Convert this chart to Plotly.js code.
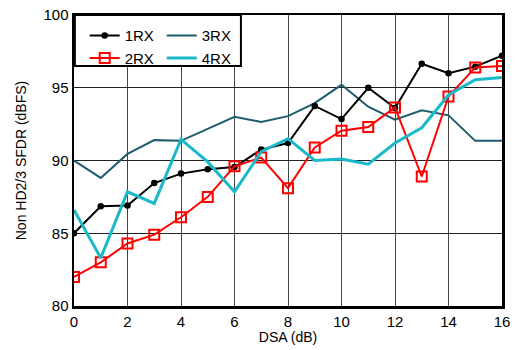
<!DOCTYPE html>
<html>
<head>
<meta charset="utf-8">
<script src="https://cdn.plot.ly/plotly-3.0.1.min.js"></script>
<style>html,body{margin:0;padding:0;background:#fff;}#chart{width:515px;height:350px;}</style>
</head>
<body>
<div id="chart"></div>
<script>
const dsa = [0,1,2,3,4,5,6,7,8,9,10,11,12,13,14,15,16];
const rx1 = [85.0,86.85,86.9,88.45,89.1,89.4,89.55,90.75,91.2,93.75,92.85,95.0,93.6,96.65,96.0,96.45,97.2];
const rx2 = [82.0,83.0,84.3,84.9,86.1,87.5,89.6,90.2,88.1,90.9,92.05,92.3,93.65,88.9,94.4,96.4,96.5];
const rx3 = [90.0,88.8,90.45,91.4,91.35,92.2,93.0,92.65,93.05,93.95,95.2,93.7,92.8,93.45,93.1,91.35,91.35];
const rx4 = [86.6,83.3,87.85,87.05,91.45,89.9,87.85,90.6,91.5,90.0,90.1,89.75,91.2,92.25,94.5,95.55,95.7];
const names = ['1RX','2RX','3RX','4RX'];

const traces = [
  {x:dsa, y:rx3, name:names[2], mode:'lines', line:{color:'#1d5c6c', width:2}, legend:'legend2'},
  {x:dsa, y:rx1, name:names[0], mode:'lines+markers', line:{color:'#000', width:2}, marker:{symbol:'circle', size:6.5, color:'#000'}, legend:'legend', legendrank:1},
  {x:dsa, y:rx2, name:names[1], mode:'lines+markers', line:{color:'#ff0000', width:2}, marker:{symbol:'square-open', size:10, color:'#ff0000', line:{width:2}}, legend:'legend', legendrank:2},
  {x:dsa, y:rx4, name:names[3], mode:'lines', line:{color:'#19b9c9', width:3}, legend:'legend2'}
];

const legCommon = {yanchor:'top', xanchor:'left', orientation:'v', bgcolor:'rgba(0,0,0,0)', borderwidth:0,
  font:{size:15}, itemwidth:30, tracegroupgap:0, traceorder:'normal'};

const layout = {
  width:515, height:350,
  margin:{l:74, r:13, t:15, b:44},
  paper_bgcolor:'#fff', plot_bgcolor:'#fff',
  font:{family:'Liberation Sans, Arial, sans-serif', size:15, color:'#000'},
  xaxis:{range:[0,16], tickvals:[0,2,4,6,8,10,12,14,16], showgrid:true, gridcolor:'#444', gridwidth:1,
    showline:true, linecolor:'#000', linewidth:2.5, mirror:true, zeroline:false, ticks:'', ticklen:0,
    title:{text:'DSA (dB)', font:{size:14}, standoff:4}, tickfont:{size:15}},
  yaxis:{range:[80,100], tickvals:[80,85,90,95,100], showgrid:true, gridcolor:'#222', gridwidth:1,
    showline:true, linecolor:'#000', linewidth:2.5, mirror:true, zeroline:false, ticks:'', ticklen:0,
    title:{text:'Non HD2/3 SFDR (dBFS)', font:{size:14}, standoff:14}, tickfont:{size:15}},
  legend:Object.assign({}, legCommon, {x:0.025, y:0.985}),
  legend2:Object.assign({}, legCommon, {x:0.205, y:0.985}),
  shapes:[{type:'rect', xref:'paper', yref:'paper', x0:0.002, x1:0.39, y0:0.825, y1:1,
    line:{color:'#000', width:2}, fillcolor:'#fff', layer:'above'}],
  showlegend:true
};
Plotly.newPlot('chart', traces, layout, {displayModeBar:false, staticPlot:true});
</script>
</body>
</html>
